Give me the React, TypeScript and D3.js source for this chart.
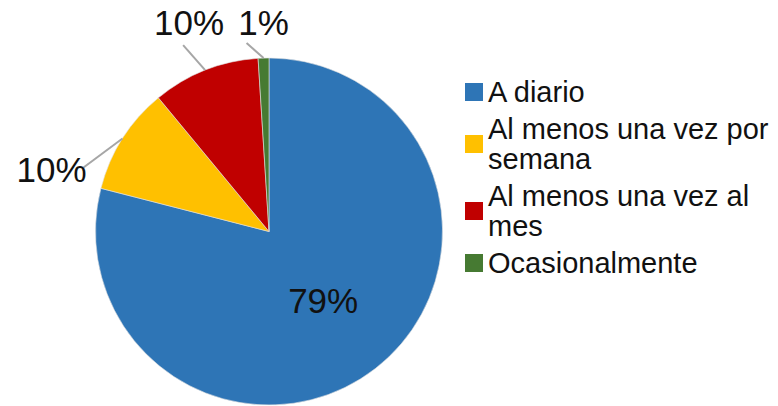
import React from "react";
import * as d3 from "d3";

const categories = ["A diario", "Al menos una vez por semana", "Al menos una vez al mes", "Ocasionalmente"];
const values = [79, 10, 10, 1];
const colors = ["#2E75B6", "#FFC000", "#C00000", "#467A32"];
const legendLines = [["A diario"], ["Al menos una vez por", "semana"], ["Al menos una vez al", "mes"], ["Ocasionalmente"]];

// label layout (offsets relative to leader start on pie edge / centroid)
const labelLayout: { lx: number; ly: number; tx: number; ty: number; leader: boolean }[] = [
  { lx: 0, ly: 0, tx: 1, ty: 13, leader: false },
  { lx: -39, ly: 29, tx: -71, ty: 43, leader: true },
  { lx: -22, ly: -25, tx: -16, ty: -35, leader: true },
  { lx: -17, ly: -15, tx: 0, ty: -23, leader: true },
];

const W = 778;
const H = 406;
const cx = 269;
const cy = 231.5;
const R = 173.5;
const FONT = "'Liberation Sans', Arial, sans-serif";

export default function App() {
  const pie = d3.pie<number>().sort(null).value((d) => d).startAngle(0).endAngle(2 * Math.PI);
  const arcs = pie(values);
  const arc = d3.arc<d3.PieArcDatum<number>>().innerRadius(0).outerRadius(R);
  const total = d3.sum(values);
  const fmt = (v: number) => `${Math.round((v / total) * 100)}%`;

  // legend layout
  const legendX = 465;
  const lineH = 30;
  const itemGap = 37;
  let y = 102;
  const legendItems = legendLines.map((lines, i) => {
    const first = y;
    const last = y + (lines.length - 1) * lineH;
    y = last + itemGap;
    return { lines, first, last, i };
  });

  return (
    <svg width={W} height={H} style={{ position: "absolute", left: 0, top: 0, background: "#fff" }} fontFamily={FONT}>
      <g transform={`translate(${cx},${cy})`}>
        {arcs.map((a, i) => (
          <path key={categories[i]} d={arc(a) || ""} fill={colors[i]} stroke="#e0e0e0" strokeWidth={0.6} />
        ))}
        {arcs.map((a, i) => {
          const lay = labelLayout[i];
          const mid = (a.startAngle + a.endAngle) / 2;
          if (!lay.leader) {
            const c = arc.centroid(a);
            return (
              <text key={"l" + i} x={c[0] + lay.tx} y={c[1] + lay.ty} textAnchor="middle" fontSize={35} fill="#111">
                {fmt(a.value)}
              </text>
            );
          }
          const sx = R * Math.sin(mid);
          const sy = -R * Math.cos(mid);
          return (
            <g key={"l" + i}>
              <line x1={sx} y1={sy} x2={sx + lay.lx} y2={sy + lay.ly} stroke="#a6a6a6" strokeWidth={2} />
              <text x={sx + lay.tx} y={sy + lay.ty} textAnchor="middle" fontSize={35} fill="#111">
                {fmt(a.value)}
              </text>
            </g>
          );
        })}
      </g>
      <g>
        {legendItems.map((it) => (
          <g key={categories[it.i]}>
            <rect
              x={legendX}
              y={(it.first + it.last) / 2 - 19}
              width={18}
              height={18}
              fill={colors[it.i]}
            />
            {it.lines.map((ln, k) => (
              <text key={k} x={legendX + 23} y={it.first + k * lineH} fontSize={29} fill="#111">
                {ln}
              </text>
            ))}
          </g>
        ))}
      </g>
    </svg>
  );
}
